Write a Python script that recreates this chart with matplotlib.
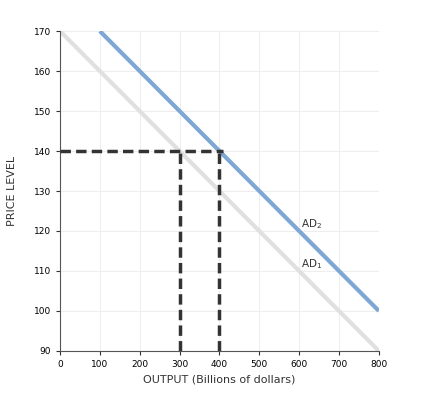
import matplotlib
matplotlib.use("Agg")
import matplotlib.pyplot as plt

ad1_x = [0, 800]
ad1_y = [170, 90]
ad2_x = [100, 800]
ad2_y = [170, 100]
price_line = 140
outputs = [300, 400]

fig = plt.figure(figsize=(4.38, 4.09), dpi=100)
ax = fig.add_axes([0.137, 0.142, 0.728, 0.782])

ax.plot(ad1_x, ad1_y, color="#e0e0e0", lw=3, solid_capstyle="butt", zorder=2)
ax.plot(ad2_x, ad2_y, color="#7fa7d6", lw=3, solid_capstyle="butt", zorder=3)

ax.plot([0, 410], [price_line, price_line], color="#333333", lw=2.5, ls=(0, (3, 1.5)), zorder=4)
for xo in outputs:
    ax.plot([xo, xo], [90, price_line], color="#333333", lw=2.5, ls=(0, (3, 1.5)), zorder=4)

ax.text(605, 121, "AD$_2$", fontsize=7.5, color="#333333")
ax.text(605, 111, "AD$_1$", fontsize=7.5, color="#333333")

ax.set_xlim(0, 800)
ax.set_ylim(90, 170)
ax.set_xticks(range(0, 801, 100))
ax.set_yticks(range(90, 171, 10))
ax.grid(color="#eeeeee", lw=0.8, zorder=0)
ax.tick_params(labelsize=6.5, length=3, color="#333333")
for s in ["top", "right"]:
    ax.spines[s].set_visible(False)
for s in ["left", "bottom"]:
    ax.spines[s].set_color("#555555")
ax.set_xlabel("OUTPUT (Billions of dollars)", fontsize=8, color="#333333")
ax.set_ylabel("PRICE LEVEL", fontsize=8, color="#333333", labelpad=12)

fig.savefig("out.png", dpi=100)
